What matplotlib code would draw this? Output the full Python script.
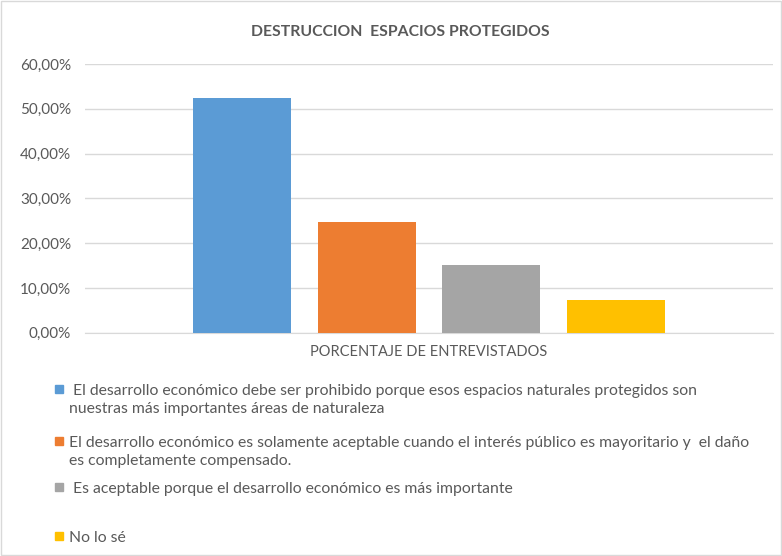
import matplotlib
matplotlib.use("Agg")
import matplotlib.pyplot as plt
from matplotlib.patches import Rectangle
from matplotlib.ticker import FuncFormatter

title = "DESTRUCCION  ESPACIOS PROTEGIDOS"
category = "PORCENTAJE DE ENTREVISTADOS"
series_names = [
    " El desarrollo económico debe ser prohibido porque esos espacios naturales protegidos son\nnuestras más importantes áreas de naturaleza",
    "El desarrollo económico es solamente aceptable cuando el interés público es mayoritario y  el daño\nes completamente compensado.",
    " Es aceptable porque el desarrollo económico es más importante",
    "No lo sé",
]
values = [0.523, 0.247, 0.152, 0.072]
colors = ["#5B9BD5", "#ED7D31", "#A5A5A5", "#FFC000"]
yticks = [0, 0.1, 0.2, 0.3, 0.4, 0.5, 0.6]

plt.rcParams['font.family'] = ['Lato', 'DejaVu Sans']
txt = "#595959"
W, H = 782, 556

fig = plt.figure(figsize=(W / 100, H / 100), dpi=100)
ax = fig.add_axes([85 / W, 223.3 / H, 688 / W, 268.7 / H])

n = len(values)
offsets = [i - (n - 1) / 2 for i in range(n)]
for off, v, c in zip(offsets, values, colors):
    ax.bar(off, v, width=0.79, color=c, zorder=3)

ax.set_xlim(-2.764, 2.764)
ax.set_ylim(0, 0.6)
ax.set_yticks(yticks)
ax.yaxis.set_major_formatter(FuncFormatter(lambda y, p: f"{y*100:.2f}%".replace(".", ",")))
ax.set_xticks([0])
ax.set_xticklabels([category])
ax.tick_params(axis='both', length=0, colors=txt)
ax.tick_params(axis='y', pad=10, labelsize=11)
ax.tick_params(axis='x', pad=9, labelsize=10.5)
ax.grid(axis='y', color="#D9D9D9", linewidth=1, zorder=0)
for s in ['top', 'right', 'left']:
    ax.spines[s].set_visible(False)
ax.spines['bottom'].set_color("#D9D9D9")

fig.text(400 / W, 1 - 32 / H, title, ha='center', va='center', fontsize=11.3,
         fontweight='bold', color=txt)

# legend (manual, Excel-style wrapped entries)
legend_y = [389, 441, 487, 536]
line_step = 18
for name, c, y in zip(series_names, colors, legend_y):
    fig.patches.append(Rectangle((55 / W, 1 - (y + 4) / H), 8 / W, 8 / H,
                                 transform=fig.transFigure, color=c))
    for k, line in enumerate(name.split("\n")):
        fig.text(69 / W, 1 - (y + k * line_step) / H, line, ha='left', va='center_baseline',
                 fontsize=11.3, color=txt)

# outer border
fig.patches.append(Rectangle((1 / W, 1 / H), (W - 2) / W, (H - 2) / H, transform=fig.transFigure,
                             fill=False, edgecolor="#D9D9D9", linewidth=1))

fig.savefig("out.png", dpi=100)
